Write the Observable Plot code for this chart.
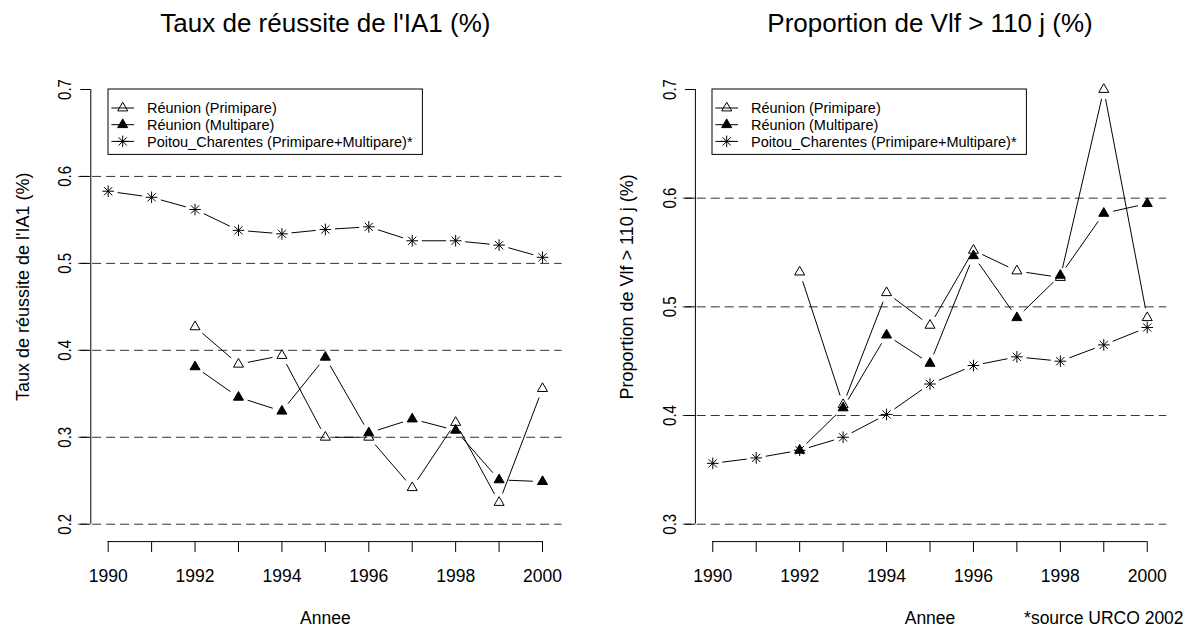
<!DOCTYPE html>
<html>
<head>
<meta charset="utf-8">
<script src="https://cdn.jsdelivr.net/npm/d3@7"></script>
<script src="https://cdn.jsdelivr.net/npm/@observablehq/plot@0.6"></script>
<style>
  html, body { margin: 0; padding: 0; background: #fff; }
  #root { position: relative; width: 1191px; height: 628px; overflow: hidden; background: #fff;
          font-family: "Liberation Sans", Arial, Helvetica, sans-serif; }
  #root > svg { position: absolute; top: 0; }
</style>
</head>
<body>
<div id="root"></div>
<script>
// ---------------- data ----------------
const years = [1990, 1991, 1992, 1993, 1994, 1995, 1996, 1997, 1998, 1999, 2000];
const yearsReunion = [1992, 1993, 1994, 1995, 1996, 1997, 1998, 1999, 2000];
const xTickLabels = [1990, 1992, 1994, 1996, 1998, 2000];

const ia1Primipare = [0.427, 0.384, 0.394, 0.300, 0.300, 0.242, 0.317, 0.225, 0.356];
const ia1Multipare = [0.381, 0.346, 0.330, 0.392, 0.305, 0.321, 0.308, 0.251, 0.249];
const ia1Poitou    = [0.583, 0.576, 0.562, 0.538, 0.534, 0.539, 0.542, 0.526, 0.526, 0.521, 0.507];

const vlfPrimipare = [0.532, 0.410, 0.513, 0.483, 0.552, 0.533, 0.527, 0.700, 0.490];
const vlfMultipare = [0.368, 0.407, 0.474, 0.448, 0.547, 0.490, 0.529, 0.586, 0.595];
const vlfPoitou    = [0.356, 0.361, 0.368, 0.380, 0.401, 0.429, 0.446, 0.454, 0.450, 0.465, 0.481];

const ia1Ticks = [0.2, 0.3, 0.4, 0.5, 0.6, 0.7];
const ia1Grid  = [0.2, 0.3, 0.4, 0.5, 0.6];
const vlfTicks = [0.3, 0.4, 0.5, 0.6, 0.7];
const vlfGrid  = [0.3, 0.4, 0.5, 0.6];

const seriesNames = ["Réunion (Primipare)", "Réunion (Multipare)", "Poitou_Charentes (Primipare+Multipare)*"];
const titles = ["Taux de réussite de l'IA1 (%)", "Proportion de Vlf > 110 j (%)"];
const yLabels = ["Taux de réussite de l'IA1 (%)", "Proportion de Vlf > 110 j (%)"];
const xLabel = "Annee";
const sourceNote = "*source URCO 2002";

// ---------------- symbols (R pch 2, 17, 8) ----------------
const triSym = { draw(ctx, size) { const r = Math.sqrt(size / Math.PI), h = r * Math.sqrt(3) / 2;
  ctx.moveTo(0, -r); ctx.lineTo(h, r / 2); ctx.lineTo(-h, r / 2); ctx.closePath(); } };
const starSym = { draw(ctx, size) { const r = Math.sqrt(size / Math.PI), d = r / Math.SQRT2;
  ctx.moveTo(-r, 0); ctx.lineTo(r, 0); ctx.moveTo(0, -r); ctx.lineTo(0, r);
  ctx.moveTo(-d, -d); ctx.lineTo(d, d); ctx.moveTo(-d, d); ctx.lineTo(d, -d); } };
const SYM_R = 5.8;
const GAP = 10;
const FONT = "Liberation Sans, Arial, Helvetica, sans-serif";
const H = 628;
const TICK_SQUEEZE = 0.81;  // rotated texts are shorter along their length in the reference
const LABEL_SQUEEZE = 0.9;

const pts = (xs, ys) => xs.map((x, i) => ({x, y: ys[i]}));
const segs = (xs, ys) => d3.pairs(pts(xs, ys)).map(([a, b]) => ({x1: a.x, y1: a.y, x2: b.x, y2: b.y}));

const root = document.getElementById("root");

function panel(cfg) {
  const {left, width, marginLeft, marginRight, yDomain, yTicks, grid, prim, multi, poitou, title, ylabel, source} = cfg;
  const seriesMarks = [];
  const defs = [
    {xs: yearsReunion, ys: prim, sym: triSym, fill: "none"},
    {xs: yearsReunion, ys: multi, sym: triSym, fill: "#000"},
    {xs: years, ys: poitou, sym: starSym, fill: "none"}
  ];
  for (const s of defs) {
    seriesMarks.push(Plot.arrow(segs(s.xs, s.ys), {x1: "x1", y1: "y1", x2: "x2", y2: "y2",
      headLength: 0, insetStart: GAP, insetEnd: GAP, stroke: "#000", strokeWidth: 1}));
    seriesMarks.push(Plot.dot(pts(s.xs, s.ys), {x: "x", y: "y", symbol: s.sym, r: SYM_R,
      stroke: "#000", fill: s.fill, strokeWidth: 1}));
  }
  const plot = Plot.plot({
    width, height: H,
    marginLeft, marginRight, marginTop: 71.6, marginBottom: H - 541.1,
    x: {domain: [1989.6, 2000.4]},
    y: {domain: yDomain},
    style: {fontFamily: FONT, background: "transparent", color: "#000", overflow: "visible"},
    marks: [
      Plot.ruleY(grid, {x1: 1989.32, x2: 2000.45, stroke: "#333", strokeWidth: 1, strokeDasharray: "9,5"}),
      Plot.ruleX([1989.6], {y1: yTicks[0], y2: yTicks[yTicks.length - 1], stroke: "#000", strokeWidth: 1}),
      Plot.ruleY([yDomain[0]], {x1: years[0], x2: years[years.length - 1], stroke: "#000", strokeWidth: 1}),
      Plot.axisX({ticks: years, tickSize: 11, tickPadding: 17.4, fontSize: 17.5, label: null,
        tickFormat: d => xTickLabels.includes(d) ? String(d) : ""}),
      Plot.axisY({ticks: yTicks, tickSize: 10, tickRotate: -90, tickPadding: 9.6, fontSize: 18.5, label: null,
        tickFormat: d => d.toFixed(1)}),
      ...seriesMarks,
      Plot.text([title], {frameAnchor: "top", textAnchor: "middle", lineAnchor: "bottom", dy: -39.9, fontSize: 26, fill: "#000"}),
      Plot.text([ylabel], {frameAnchor: "left", textAnchor: "middle", lineAnchor: "bottom", rotate: -90, dx: -62.3, dy: -20,
        fontSize: 18, fill: "#000", ariaLabel: "ylab"}),
      Plot.text([xLabel], {frameAnchor: "bottom", textAnchor: "middle", lineAnchor: "bottom", dy: 82.2, fontSize: 17.5, fill: "#000"}),
      ...(source ? [Plot.text([source], {frameAnchor: "bottom-right", textAnchor: "end", lineAnchor: "bottom", dx: 19, dy: 82.2, fontSize: 17.5, fill: "#000"})] : [])
    ]
  });
  // compress the rotated texts along their length, as in the reference
  plot.querySelectorAll('g[aria-label="y-axis tick label"] text').forEach(t => {
    t.setAttribute("transform", (t.getAttribute("transform") || "") + ` scale(${TICK_SQUEEZE},1)`);
  });
  plot.querySelectorAll('g[aria-label="ylab"] text').forEach(t => {
    t.setAttribute("transform", (t.getAttribute("transform") || "") + ` scale(${LABEL_SQUEEZE},1)`);
  });
  plot.style.left = left + "px";
  root.appendChild(plot);

  // legend anchored at (1990, 0.7) like R's legend(x, y, ...)
  const lx = left + plot.scale("x").apply(years[0]);
  const ly = plot.scale("y").apply(yTicks[yTicks.length - 1]);
  const lw = 314.4, lh = 65.4;
  const leg = d3.create("svg").attr("width", lw + 2).attr("height", lh + 2)
    .style("position", "absolute").style("left", (lx - 1) + "px").style("top", (ly - 1) + "px")
    .style("font-family", FONT);
  leg.append("rect").attr("x", 1).attr("y", 1).attr("width", lw).attr("height", lh)
    .attr("fill", "#fff").attr("stroke", "#000").attr("stroke-width", 1);
  const legSyms = [[triSym, "none"], [triSym, "#000"], [starSym, "none"]];
  seriesNames.forEach((name, i) => {
    const cy = 1 + 19 + i * 16.7;
    leg.append("line").attr("x1", 1 + 3.4).attr("x2", 1 + 26).attr("y1", cy).attr("y2", cy)
      .attr("stroke", "#000").attr("stroke-width", 1);
    leg.append("path").attr("d", d3.symbol(legSyms[i][0], Math.PI * SYM_R * SYM_R)())
      .attr("transform", `translate(${1 + 14.7},${cy})`)
      .attr("fill", legSyms[i][1]).attr("stroke", "#000").attr("stroke-width", 1);
    leg.append("text").attr("x", 1 + 39).attr("y", cy + 5.2).attr("font-size", 14.5)
      .attr("fill", "#000").text(name);
  });
  root.appendChild(leg.node());
}

panel({left: 0, width: 595, marginLeft: 90.3, marginRight: 35.6, yDomain: [0.18, 0.72],
  yTicks: ia1Ticks, grid: ia1Grid, prim: ia1Primipare, multi: ia1Multipare, poitou: ia1Poitou,
  title: titles[0], ylabel: yLabels[0], source: null});
panel({left: 600, width: 591, marginLeft: 94.9, marginRight: 26.9, yDomain: [0.284, 0.716],
  yTicks: vlfTicks, grid: vlfGrid, prim: vlfPrimipare, multi: vlfMultipare, poitou: vlfPoitou,
  title: titles[1], ylabel: yLabels[1], source: sourceNote});
</script>
</body>
</html>
